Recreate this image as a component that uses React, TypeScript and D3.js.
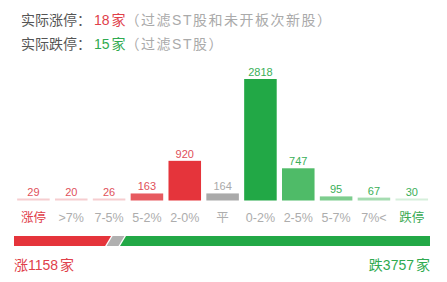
import React from "react";
import * as d3 from "d3";

const categories = ["涨停", ">7%", "7-5%", "5-2%", "2-0%", "平", "0-2%", "2-5%", "5-7%", "7%<", "跌停"];
const values = [29, 20, 26, 163, 920, 164, 2818, 747, 95, 67, 30];
const barColors = ["#f6cdd0", "#f6cdd0", "#f6cdd0", "#e75a60", "#e5343b", "#aaaaaa", "#22a846", "#4fbb68", "#7dcd8e", "#a5dcb1", "#d6efdb"];
const valueColors = ["#e0505a", "#e0505a", "#e0505a", "#e0505a", "#e0505a", "#aaaaaa", "#3aaf58", "#3aaf58", "#3aaf58", "#3aaf58", "#3aaf58"];
const labelColors = ["#e0404a", "#adadad", "#adadad", "#adadad", "#adadad", "#adadad", "#adadad", "#adadad", "#adadad", "#adadad", "#3aaa55"];

const upCount = 1158;
const flatCount = 164;
const downCount = 3757;
const limitUp = 18;
const limitDown = 15;

const W = 447;
const H = 282;
const FONT = "'Liberation Sans', 'Noto Sans CJK SC', sans-serif";

export default function App() {
  const x = d3.scaleBand<string>().domain(categories).range([14.5, 430.7]).paddingInner(0.14).paddingOuter(0.07);
  const y = d3.scaleLinear().domain([0, d3.max(values) as number]).range([200.5, 79]);
  const minH = 2;

  const total = upCount + flatCount + downCount;
  const px = d3.scaleLinear().domain([0, total]).range([14, 430]);
  const barY = 236;
  const barH = 10;
  const slant = 3;
  const gap = 1.5;
  const x1 = px(upCount);
  const x2 = px(upCount + flatCount);

  const redPath = `M${px(0)},${barY}H${x1 + slant - gap / 2}L${x1 - slant - gap / 2},${barY + barH}H${px(0)}Z`;
  const greyPath = `M${x1 + slant + gap / 2},${barY}H${x2 + slant - gap / 2}L${x2 - slant - gap / 2},${barY + barH}H${x1 - slant + gap / 2}Z`;
  const greenPath = `M${x2 + slant + gap / 2},${barY}H${px(total)}V${barY + barH}H${x2 - slant + gap / 2}Z`;

  return (
    <svg width={W} height={H} style={{ position: "absolute", left: 0, top: 0, background: "#fff" }} fontFamily={FONT}>
      <text x={21} y={25} fontSize={14} fill="#555">
        实际涨停：<tspan fill="#e0404a" dx={3}>{limitUp}</tspan>
        <tspan fill="#e0404a" dx={2}>家</tspan>
        <tspan fill="#aaa" letterSpacing={1.5}>（过滤ST股和未开板次新股）</tspan>
      </text>
      <text x={21} y={49} fontSize={14} fill="#555">
        实际跌停：<tspan fill="#2faa50" dx={3}>{limitDown}</tspan>
        <tspan fill="#2faa50" dx={2}>家</tspan>
        <tspan fill="#aaa" letterSpacing={1.5}>（过滤ST股）</tspan>
      </text>

      {categories.map((c, i) => {
        const bx = x(c) as number;
        const top = Math.min(y(values[i]), 200.5 - minH);
        return (
          <g key={c}>
            <rect x={bx} y={top} width={x.bandwidth()} height={200.5 - top} fill={barColors[i]} />
            <text x={bx + x.bandwidth() / 2} y={top - 3} fontSize={11} textAnchor="middle" fill={valueColors[i]}>
              {values[i]}
            </text>
            <text x={bx + x.bandwidth() / 2} y={222} fontSize={12.5} textAnchor="middle" fill={labelColors[i]}>
              {c}
            </text>
          </g>
        );
      })}

      <path d={redPath} fill="#e5343b" />
      <path d={greyPath} fill="#b0b0b0" />
      <path d={greenPath} fill="#22a846" />

      <text x={14} y={270} fontSize={14} fill="#e0404a">
        涨{upCount}<tspan dx={2}>家</tspan>
      </text>
      <text x={430} y={270} fontSize={14} fill="#2faa50" textAnchor="end">
        跌{downCount}<tspan dx={2}>家</tspan>
      </text>
    </svg>
  );
}
